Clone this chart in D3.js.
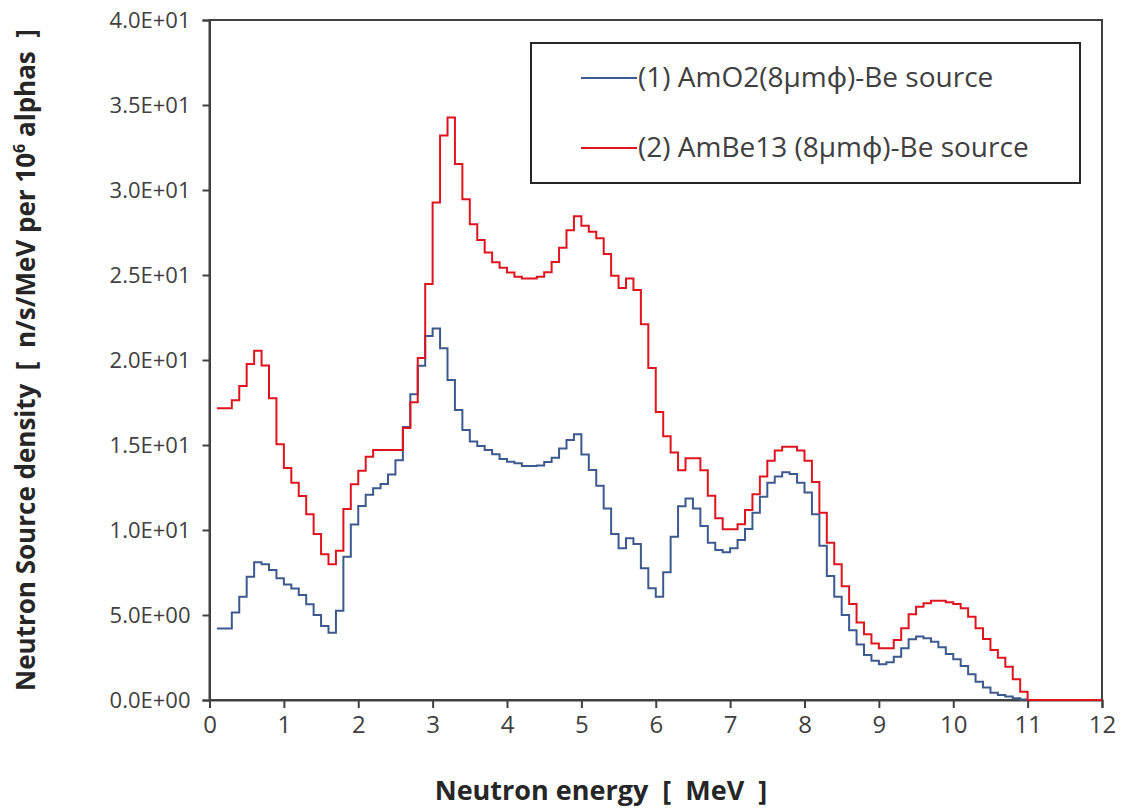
<!DOCTYPE html>
<html>
<head>
<meta charset="utf-8">
<script src="https://cdn.jsdelivr.net/npm/d3@7"></script>
<style>
  body { margin: 0; background: #fff; }
  text { font-family: "Open Sans", "Noto Sans", sans-serif; fill: #404040; }
  .title { white-space: pre; fill: #262626; }
</style>
</head>
<body>
<div id="chart"></div>
<script>
// Lower edge of each 0.1 MeV bin
var energies = [0.1,0.2,0.3,0.4,0.5,0.6,0.7,0.8,0.9,1.0,
  1.1,1.2,1.3,1.4,1.5,1.6,1.7,1.8,1.9,2.0,
  2.1,2.2,2.3,2.4,2.5,2.6,2.7,2.8,2.9,3.0,
  3.1,3.2,3.3,3.4,3.5,3.6,3.7,3.8,3.9,4.0,
  4.1,4.2,4.3,4.4,4.5,4.6,4.7,4.8,4.9,5.0,
  5.1,5.2,5.3,5.4,5.5,5.6,5.7,5.8,5.9,6.0,
  6.1,6.2,6.3,6.4,6.5,6.6,6.7,6.8,6.9,7.0,
  7.1,7.2,7.3,7.4,7.5,7.6,7.7,7.8,7.9,8.0,
  8.1,8.2,8.3,8.4,8.5,8.6,8.7,8.8,8.9,9.0,
  9.1,9.2,9.3,9.4,9.5,9.6,9.7,9.8,9.9,10.0,
  10.1,10.2,10.3,10.4,10.5,10.6,10.7,10.8,10.9,11.0,
  11.1,11.2,11.3,11.4,11.5,11.6,11.7,11.8,11.9];

// (1) AmO2(8umphi)-Be source, bins 0.1 .. 10.9
var amo2 = [4.21,4.21,5.14,6.08,7.25,8.10,7.98,7.65,7.16,6.80,
  6.56,6.18,5.63,5.00,4.35,3.96,5.25,8.43,10.33,11.41,
  12.08,12.45,12.70,13.27,14.10,16.06,17.99,19.66,21.41,21.86,
  20.69,18.82,17.06,15.88,15.20,14.94,14.70,14.45,14.18,14.02,
  13.92,13.76,13.76,13.80,14.00,14.25,14.80,15.29,15.63,14.44,
  13.53,12.60,11.27,9.76,8.92,9.51,9.17,7.75,6.57,6.08,
  7.51,9.61,11.39,11.85,11.27,10.24,9.25,8.82,8.69,8.92,
  9.41,10.06,11.02,11.96,12.78,13.14,13.39,13.29,12.78,12.20,
  10.92,9.08,7.30,6.08,5.00,4.10,3.27,2.65,2.31,2.10,
  2.22,2.55,3.04,3.57,3.73,3.63,3.43,3.10,2.71,2.39,
  2.00,1.51,1.08,0.73,0.43,0.29,0.20,0.10,0.03];

// (2) AmBe13 (8umphi)-Be source, bins 0.1 .. 11.9
var ambe13 = [17.16,17.16,17.63,18.47,19.76,20.55,19.67,17.75,15.04,13.65,
  12.78,12.00,10.92,9.76,8.57,7.98,8.78,11.24,12.69,13.49,
  14.31,14.70,14.70,14.70,14.70,16.00,17.52,20.12,24.47,29.27,
  33.20,34.26,31.53,29.45,27.98,27.06,26.33,25.75,25.43,25.14,
  24.90,24.80,24.80,24.90,25.16,25.76,26.60,27.63,28.45,27.89,
  27.55,27.16,26.23,24.95,24.23,24.80,24.12,22.10,19.53,16.94,
  15.51,14.56,13.51,14.22,14.22,13.51,12.01,10.69,10.05,10.05,
  10.34,11.18,12.10,13.14,14.08,14.67,14.90,14.90,14.67,14.08,
  12.82,11.02,9.25,7.99,6.69,5.64,4.56,3.87,3.33,3.04,
  3.04,3.53,4.22,5.04,5.49,5.69,5.84,5.84,5.75,5.65,
  5.39,4.90,4.22,3.59,2.94,2.49,1.96,1.22,0.49,0,
  0,0,0,0,0,0,0,0,0];

var seriesNames = ["(1) AmO2(8\u03bcm\u03d5)-Be source", "(2) AmBe13 (8\u03bcm\u03d5)-Be source"];
var seriesColors = ["#3c5a8f", "#e0141e"];

var xTicks = [0,1,2,3,4,5,6,7,8,9,10,11,12];
var yTicks = [0,5,10,15,20,25,30,35,40];
var yTickLabels = ["0.0E+00","5.0E+00","1.0E+01","1.5E+01","2.0E+01","2.5E+01","3.0E+01","3.5E+01","4.0E+01"];

var binWidth = 0.1;

//Create chart space
var svgWidth = 1125;
var svgHeight = 808;
var margin = { top: 20, right: 23, bottom: 108, left: 209.5 };
var width = svgWidth - margin.left - margin.right;
var height = svgHeight - margin.top - margin.bottom;

var svg = d3.select("#chart")
  .append("svg")
  .attr("width", svgWidth)
  .attr("height", svgHeight);

var chartGroup = svg.append("g")
  .attr("transform", `translate(${margin.left}, ${margin.top})`);

//Scales
var xScale = d3.scaleLinear().domain([0, 12]).range([0, width]);
var yScale = d3.scaleLinear().domain([0, 40]).range([height, 0]);

//Plot frame
chartGroup.append("rect")
  .attr("x", 0).attr("y", 0)
  .attr("width", width).attr("height", height)
  .attr("fill", "none")
  .attr("stroke", "#404040")
  .attr("stroke-width", 2);

//Axes
var bottomAxis = d3.axisBottom(xScale).tickValues(xTicks).tickSize(8).tickPadding(8);
var leftAxis = d3.axisLeft(yScale).tickValues(yTicks).tickSize(7).tickPadding(12)
  .tickFormat((d, i) => yTickLabels[i]);

var xAxisG = chartGroup.append("g")
  .attr("transform", `translate(0, ${height})`)
  .call(bottomAxis);
var yAxisG = chartGroup.append("g").call(leftAxis);

[xAxisG, yAxisG].forEach(function(g) {
  g.select(".domain").attr("stroke", "#404040").attr("stroke-width", 2);
  g.selectAll(".tick line").attr("stroke", "#404040").attr("stroke-width", 2);
  g.selectAll(".tick text")
    .attr("font-family", "Open Sans, sans-serif")
    .attr("fill", "#404040");
});
xAxisG.selectAll(".tick text").attr("font-size", 24);
yAxisG.selectAll(".tick text").attr("font-size", 22);

//Step lines
function stepPoints(vals) {
  var pts = vals.map((v, i) => [energies[i], v]);
  pts.push([energies[vals.length - 1] + binWidth, vals[vals.length - 1]]);
  return pts;
}

var stepLine = d3.line()
  .x(d => xScale(d[0]))
  .y(d => yScale(d[1]))
  .curve(d3.curveStepAfter);

[amo2, ambe13].forEach(function(vals, i) {
  chartGroup.append("path")
    .datum(stepPoints(vals))
    .attr("d", stepLine)
    .attr("fill", "none")
    .attr("stroke", seriesColors[i])
    .attr("stroke-width", 2);
});

//Legend
var legend = svg.append("g").attr("transform", "translate(531, 43)");
legend.append("rect")
  .attr("width", 549).attr("height", 140)
  .attr("fill", "#fff")
  .attr("stroke", "#262626")
  .attr("stroke-width", 2);

seriesNames.forEach(function(name, i) {
  var ly = 35 + i * 70;
  legend.append("line")
    .attr("x1", 50).attr("x2", 106)
    .attr("y1", ly).attr("y2", ly)
    .attr("stroke", seriesColors[i])
    .attr("stroke-width", 2);
  legend.append("text")
    .attr("x", 107).attr("y", ly + 9)
    .attr("font-size", 28)
    .text(name);
});

//Axis titles
svg.append("text")
  .attr("class", "title")
  .attr("x", 601)
  .attr("y", 800)
  .attr("text-anchor", "middle")
  .attr("font-size", 27)
  .attr("font-weight", "bold")
  .text("Neutron energy  [  MeV  ]");

var yTitle = svg.append("text")
  .attr("class", "title")
  .attr("transform", "translate(35, 360) rotate(-90)")
  .attr("text-anchor", "middle")
  .attr("font-size", 26)
  .attr("font-weight", "bold");
yTitle.append("tspan").text("Neutron Source density  [  n/s/MeV per 10");
yTitle.append("tspan").attr("dy", -10).attr("font-size", 16).text("6");
yTitle.append("tspan").attr("dy", 10).text(" alphas  ]");
</script>
</body>
</html>
